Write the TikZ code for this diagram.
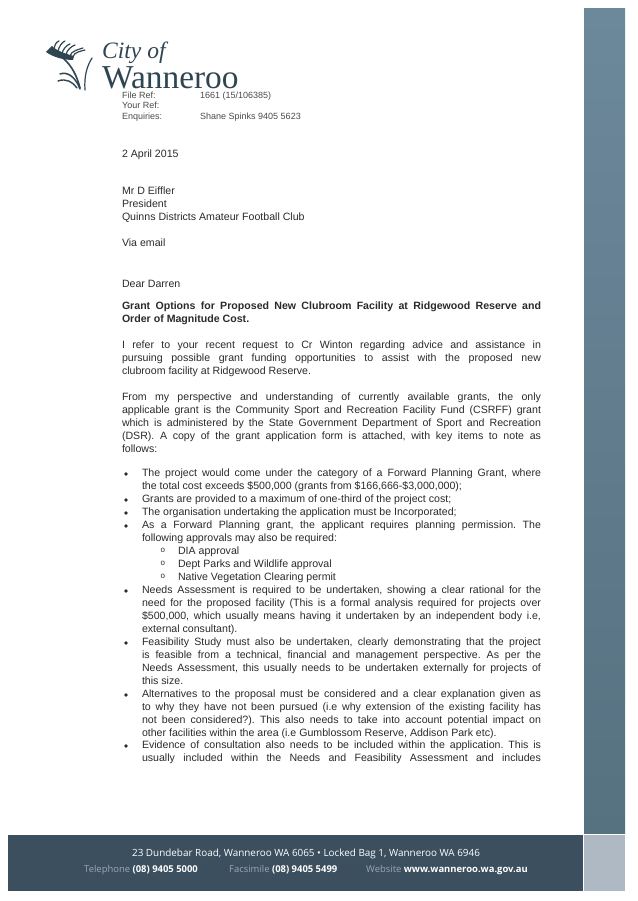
\documentclass[tikz,border=0pt]{standalone}
\usepackage{fontspec}
\setmainfont{Liberation Sans}
\newfontfamily\logofont{Liberation Serif}
\newfontfamily\footfont{Open Sans}
\definecolor{inkgrey}{HTML}{2A2A2A}
\definecolor{logoslate}{HTML}{2F4552}
\definecolor{bandslate}{HTML}{3B4F5F}
\definecolor{barlight}{HTML}{AEB9C4}
\definecolor{bartop}{HTML}{6C889B}
\definecolor{barfoot}{HTML}{567180}
\definecolor{footgrey}{HTML}{9AA8B4}
\tikzset{
  body/.style={anchor=north west,inner sep=0pt,outer sep=0pt,text=inkgrey,
    font=\fontsize{10.6}{13}\selectfont\frenchspacing},
  para/.style={body,text width=419pt,align=justify},
  item/.style={body,text width=399pt,align=justify},
  dot/.style={circle,fill=inkgrey,inner sep=0pt,minimum size=3.8pt},
  refline/.style={anchor=base west,inner sep=0pt,text=inkgrey!85,font=\fontsize{9}{10}\selectfont},
  foot/.style={anchor=base west,inner sep=0pt,text=footgrey,font=\footfont\fontsize{9.45}{11}\selectfont},
  blade/.style={logoslate,line cap=round}
}
\newcommand\approvalitem[3]{% name, y, text
  \node[body,font=\fontsize{8}{13}\selectfont] (#1o) at (160.5,#2+1) {o};
  \node[body] (#1) at (178,#2) {#3};
}
\begin{document}
\begin{tikzpicture}[x=1pt,y=-1pt]
  \useasboundingbox (0,0) rectangle (637,901);
  % side bar and foot band
  \fill[top color=bartop,bottom color=barfoot] (584,9) rectangle (625,833);
  \fill[barlight] (584,835) rectangle (625,891);
  \fill[bandslate] (8,835) rectangle (583,891);
  % logo
  \node[anchor=base west,inner sep=0pt,text=logoslate,font=\logofont\itshape\fontsize{23.5}{24}\selectfont] (cityof) at (102,59) {City of};
  \node[anchor=base west,inner sep=0pt,text=logoslate,font=\logofont\fontsize{33.4}{34}\selectfont] (wanneroo) at (102,89) {Wanneroo};
  \fill[logoslate] (46,52) -- (52,46) .. controls (57,51) and (66,54) .. (74,56) -- (73,60) .. controls (63,60) and (53,57) .. cycle;
  \foreach \xa/\ya/\xb/\yb in {54/50/59/41,58/52/65/41,62/54/70/44,66/55/75/45,70/56/83/48,73/57/85/50}
    \draw[blade,line width=1.2pt] (\xa,\ya) .. controls (\xa+0.5,\ya-5) and (\xb-3,\yb+1) .. (\xb,\yb);
  \draw[blade,line width=1.6pt] (63,58) .. controls (72,66) and (77,76) .. (80,88);
  \draw[blade,line width=1.5pt] (60,74) .. controls (68,71) and (76,78) .. (80,89);
  \draw[blade,line width=1.4pt] (58,81) .. controls (66,78) and (73,82) .. (77,88);
  \draw[blade,line width=1.2pt] (85,90) .. controls (84,76) and (87,66) .. (92,58);
  % reference block
  \node[refline] (fileref) at (122,99) {File Ref:};
  \node[refline] (yourref) at (122,109) {Your Ref:};
  \node[refline] (enquiry) at (122,120) {Enquiries:};
  \node[refline] (fileno) at (200,99) {1661 (15/106385)};
  \node[refline] (enquirer) at (200,120) {Shane Spinks 9405 5623};
  % letter
  \node[body] (date) at (122,150) {2 April 2015};
  \node[body,align=left] (address) at (122,187) {Mr D Eiffler\\President\\Quinns Districts Amateur Football Club};
  \node[body] (via) at (122,239) {Via email};
  \node[body] (dear) at (122,280) {Dear Darren};
  \node[para,font=\bfseries\fontsize{10.6}{13}\selectfont\frenchspacing] (subject) at (122,302) {Grant Options for Proposed New Clubroom Facility at Ridgewood Reserve and\linebreak Order of Magnitude Cost.};
  \node[para] (intro) at (122,341) {I refer to your recent request to Cr Winton regarding advice and assistance in\linebreak pursuing possible grant funding opportunities to assist with the proposed new\linebreak clubroom facility at Ridgewood Reserve.};
  \node[para] (grants) at (122,393) {From my perspective and understanding of currently available grants, the only\linebreak applicable grant is the Community Sport and Recreation Facility Fund (CSRFF) grant\linebreak which is administered by the State Government Department of Sport and Recreation\linebreak (DSR). A copy of the grant application form is attached, with key items to note as\linebreak follows:};
  % bullets
  \foreach \yb [count=\i] in {469,495,508,521,586,638,690,741}
    \node[dot] (dot\i) at (126,\yb+5) {};
  \node[item] (project) at (142,469) {The project would come under the category of a Forward Planning Grant, where\linebreak the total cost exceeds \$500,000 (grants from \$166,666-\$3,000,000);};
  \node[item] (third) at (142,495) {Grants are provided to a maximum of one-third of the project cost;};
  \node[item] (incorp) at (142,508) {The organisation undertaking the application must be Incorporated;};
  \node[item] (forward) at (142,521) {As a Forward Planning grant, the applicant requires planning permission. The\linebreak following approvals may also be required:};
  \approvalitem{dia}{547}{DIA approval}
  \approvalitem{parks}{560}{Dept Parks and Wildlife approval}
  \approvalitem{native}{573}{Native Vegetation Clearing permit}
  \node[item] (needs) at (142,586) {Needs Assessment is required to be undertaken, showing a clear rational for the\linebreak need for the proposed facility (This is a formal analysis required for projects over\linebreak \$500,000, which usually means having it undertaken by an independent body i.e,\linebreak external consultant).};
  \node[item] (feasible) at (142,638) {Feasibility Study must also be undertaken, clearly demonstrating that the project\linebreak is feasible from a technical, financial and management perspective. As per the\linebreak Needs Assessment, this usually needs to be undertaken externally for projects of\linebreak this size.};
  \node[item] (altern) at (142,690) {Alternatives to the proposal must be considered and a clear explanation given as\linebreak to why they have not been pursued (i.e why extension of the existing facility has\linebreak not been considered?). This also needs to take into account potential impact on\linebreak other facilities within the area (i.e Gumblossom Reserve, Addison Park etc).};
  \node[item] (consult) at (142,741) {Evidence of consultation also needs to be included within the application. This is\linebreak usually included within the Needs and Feasibility Assessment and includes\linebreak};
  % foot band text
  \node[foot,anchor=base,text=white,font=\footfont\fontsize{9.9}{11}\selectfont] (street) at (306,856.5) {23 Dundebar Road, Wanneroo WA 6065 \textbullet{} Locked Bag 1, Wanneroo WA 6946};
  \node[foot] (tel) at (84,872.5) {Telephone \textcolor{white}{\bfseries (08) 9405 5000}};
  \node[foot] (fax) at (229,872.5) {Facsimile \textcolor{white}{\bfseries (08) 9405 5499}};
  \node[foot] (web) at (366,872.5) {Website \textcolor{white}{\bfseries www.wanneroo.wa.gov.au}};
\end{tikzpicture}
\end{document}
